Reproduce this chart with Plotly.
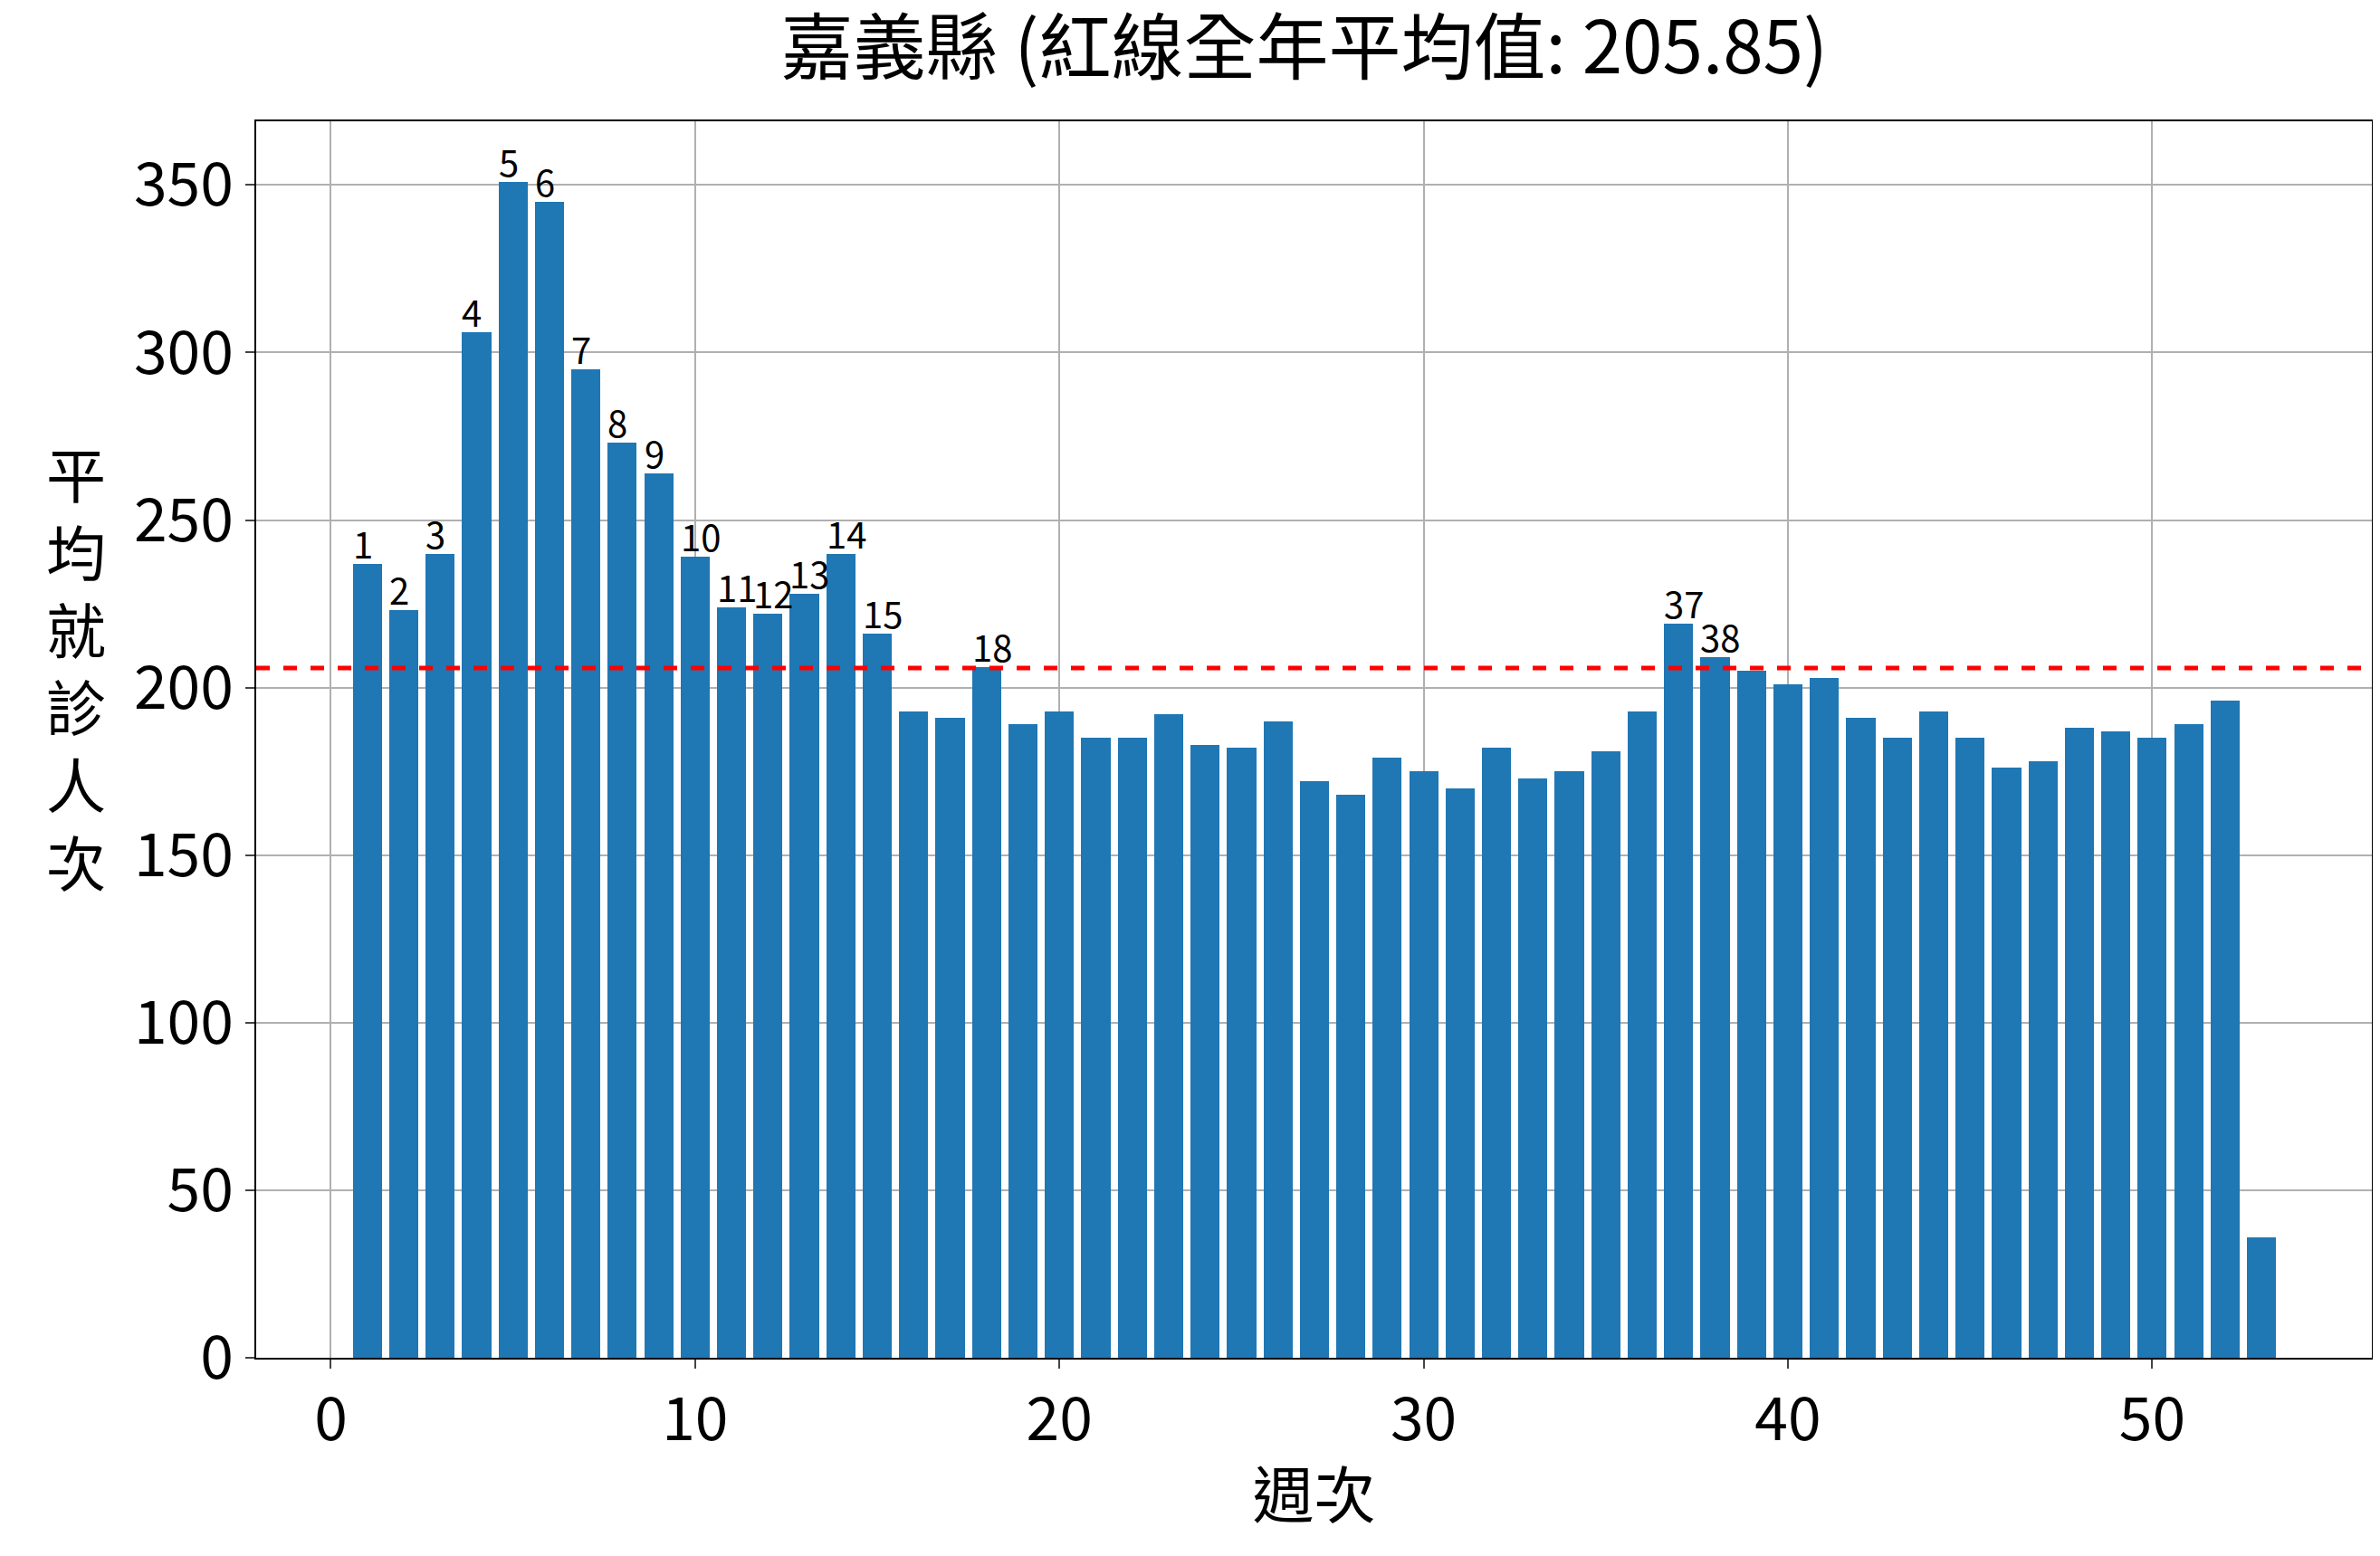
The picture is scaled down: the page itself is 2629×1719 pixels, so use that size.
import plotly.graph_objects as go

weeks = list(range(1, 54))
visits = [237, 223, 240, 306, 351, 345, 295, 273, 264, 239, 224, 222, 228, 240, 216,
          193, 191, 206, 189, 193, 185, 185, 192, 183, 182, 190, 172, 168, 179, 175,
          170, 182, 173, 175, 181, 193, 219, 209, 205, 201, 203, 191, 185, 193, 185,
          176, 178, 188, 187, 185, 189, 196, 36]
mean_val = 205.85

FONT = "Noto Sans CJK TC"

fig = go.Figure()
fig.add_trace(go.Bar(x=weeks, y=visits, width=0.8, marker=dict(color="#1f77b4", line=dict(width=0))))

fig.add_shape(type="line", xref="paper", x0=0, x1=1, y0=mean_val, y1=mean_val,
              line=dict(color="red", width=5, dash="dash"))

for w, v in zip(weeks, visits):
    if v > mean_val:
        fig.add_annotation(x=w - 0.45, y=v, text=str(w), showarrow=False,
                           xanchor="left", yanchor="bottom", yshift=-8,
                           font=dict(family=FONT, size=40, color="black"))

# vertical y-axis title, characters stacked
fig.add_annotation(xref="paper", yref="paper", x=-0.085, y=0.56, xanchor="center", yanchor="middle",
                   text="平<br>均<br>就<br>診<br>人<br>次", showarrow=False, textangle=0,
                   font=dict(family=FONT, size=66, color="black"))

fig.update_layout(
    width=2629, height=1719,
    paper_bgcolor="white", plot_bgcolor="white",
    margin=dict(l=275, r=17, t=126, b=227, autoexpand=False),
    showlegend=False,
    font=dict(family=FONT, color="black"),
    title=dict(text="嘉義縣 (紅線全年平均值: 205.85)", x=0.545, xanchor="center",
               y=0.99, yanchor="top", font=dict(size=80, family=FONT)),
    bargap=0,
)
fig.update_xaxes(range=[-2.05, 56.03], tickvals=[0, 10, 20, 30, 40, 50],
                 showgrid=True, gridcolor="#b0b0b0", gridwidth=2,
                 showline=True, linecolor="black", linewidth=2, mirror=True,
                 ticks="outside", ticklen=10, tickwidth=2, tickfont=dict(size=66),
                 title=dict(text="週次", font=dict(size=68), standoff=20), zeroline=False)
fig.update_yaxes(range=[0, 369], tickvals=[0, 50, 100, 150, 200, 250, 300, 350],
                 showgrid=True, gridcolor="#b0b0b0", gridwidth=2,
                 showline=True, linecolor="black", linewidth=2, mirror=True,
                 ticks="outside", ticklen=10, tickwidth=2, tickfont=dict(size=66),
                 zeroline=False)

fig.write_html("out.html")
